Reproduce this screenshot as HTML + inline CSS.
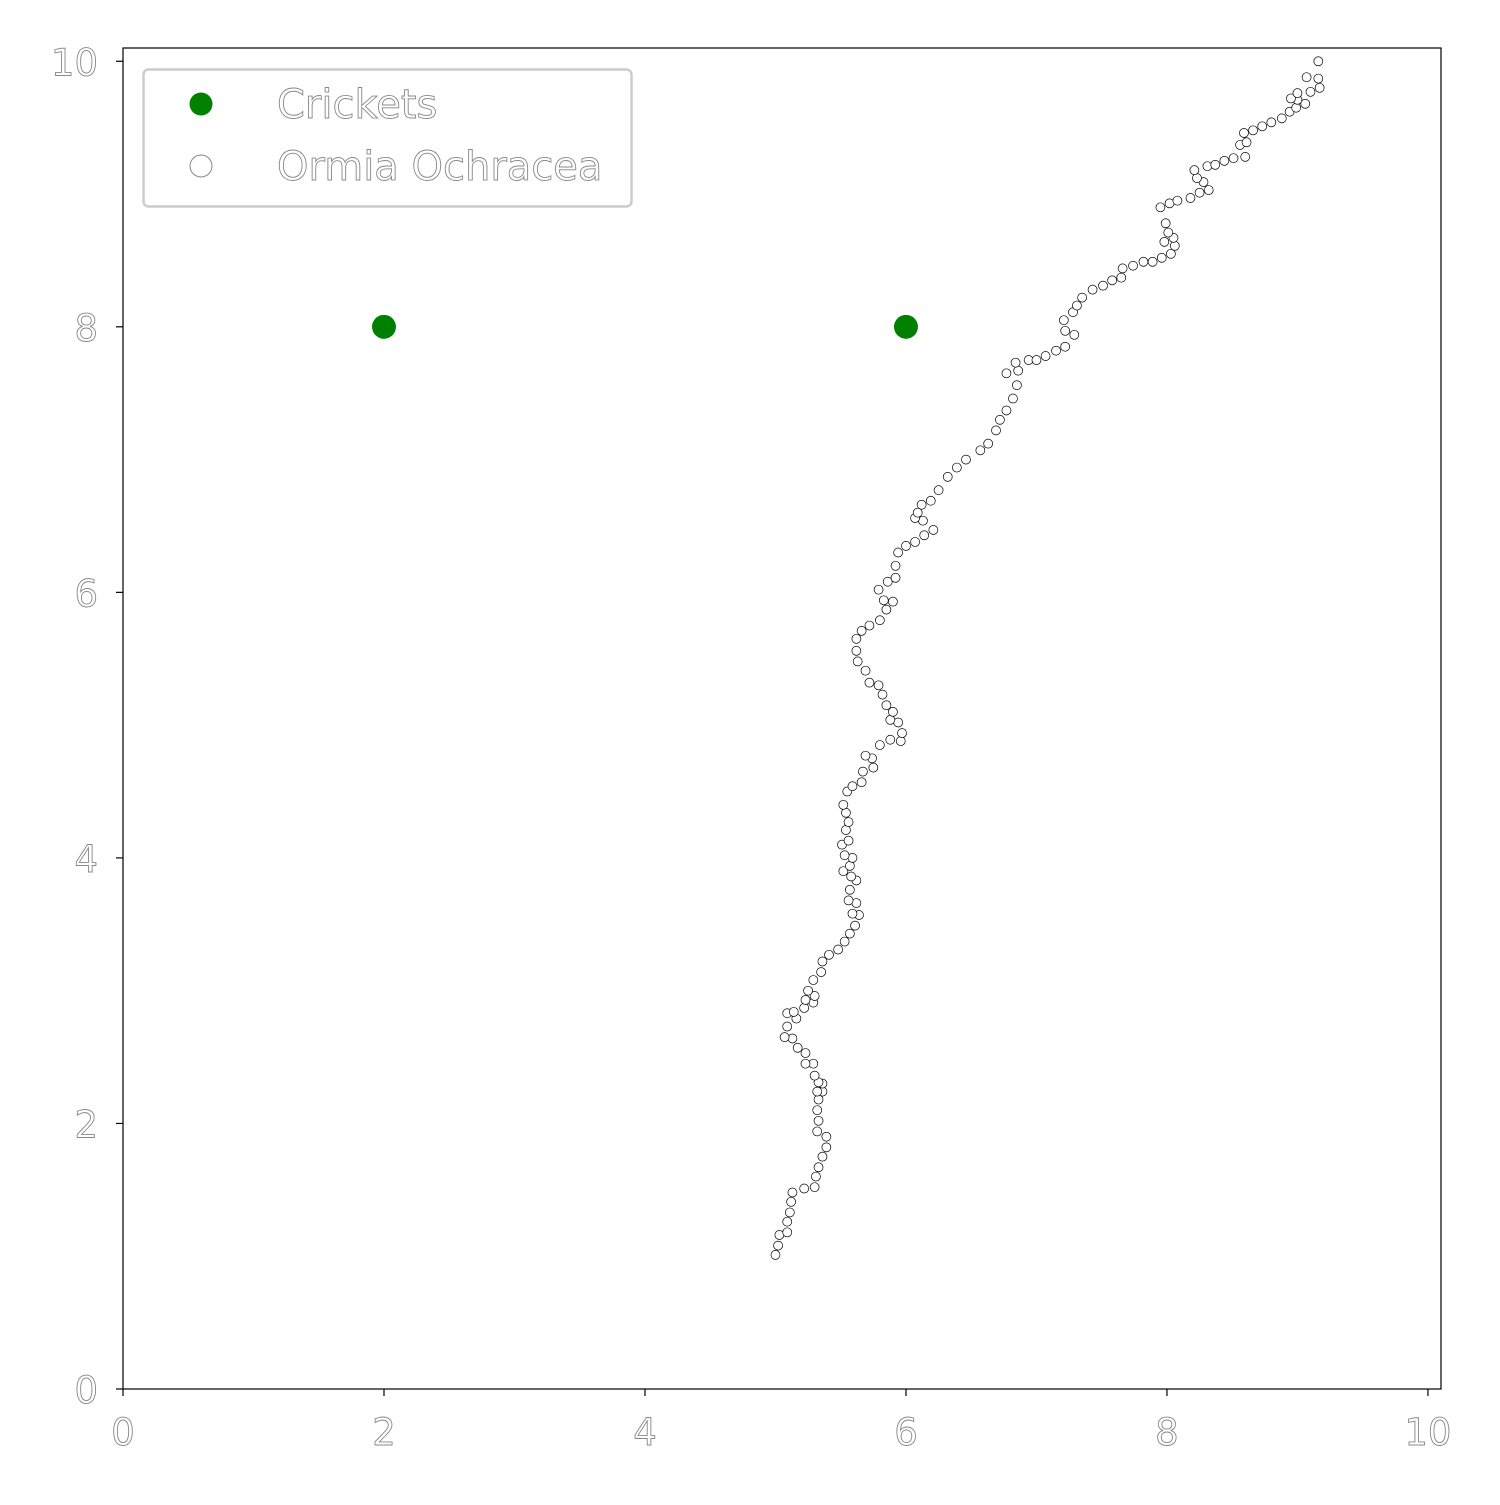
<!DOCTYPE html>
<html><head><meta charset="utf-8"><style>
html,body{margin:0;padding:0;background:#fff}
svg text{font-family:"DejaVu Sans","Liberation Sans",sans-serif;fill:#fff;stroke:#888;stroke-width:0.9}
</style></head><body>
<svg id="chart" width="1500" height="1500" viewBox="0 0 1500 1500" xmlns="http://www.w3.org/2000/svg">
<rect x="0" y="0" width="1500" height="1500" fill="#fff"/>
<g id="plot"></g>
</svg>
<script>
const cricketX = [2, 6];
const cricketY = [8, 8];
const ormiaX = [5.00,5.02,5.03,5.09,5.09,5.11,5.12,5.13,5.22,5.30,5.31,5.33,5.36,5.39,5.39,5.32,5.33,5.32,5.33,5.36,5.32,5.36,5.33,5.30,5.29,5.23,5.23,5.17,5.13,5.07,5.09,5.16,5.09,5.14,5.22,5.29,5.23,5.30,5.25,5.29,5.35,5.36,5.41,5.48,5.53,5.57,5.61,5.64,5.59,5.62,5.56,5.57,5.62,5.58,5.52,5.57,5.59,5.53,5.51,5.56,5.54,5.56,5.54,5.52,5.55,5.59,5.66,5.67,5.75,5.74,5.69,5.80,5.88,5.96,5.97,5.94,5.88,5.90,5.85,5.82,5.79,5.72,5.69,5.63,5.62,5.62,5.66,5.72,5.80,5.85,5.90,5.83,5.79,5.86,5.92,5.92,5.94,6.00,6.07,6.14,6.21,6.13,6.07,6.09,6.12,6.19,6.25,6.32,6.39,6.46,6.57,6.63,6.69,6.72,6.77,6.82,6.85,6.77,6.86,6.84,6.94,7.00,7.07,7.15,7.22,7.29,7.22,7.21,7.28,7.31,7.35,7.43,7.51,7.58,7.65,7.66,7.74,7.82,7.89,7.96,8.03,8.06,7.98,8.05,8.01,7.99,7.95,8.02,8.08,8.18,8.25,8.32,8.28,8.23,8.21,8.31,8.37,8.44,8.51,8.60,8.56,8.61,8.59,8.66,8.73,8.80,8.88,8.94,8.99,9.06,9.00,8.95,9.00,9.10,9.17,9.07,9.16,9.16];
const ormiaY = [1.01,1.08,1.16,1.18,1.26,1.33,1.41,1.48,1.51,1.52,1.60,1.67,1.75,1.82,1.90,1.94,2.02,2.10,2.18,2.24,2.24,2.30,2.31,2.36,2.45,2.45,2.53,2.57,2.64,2.65,2.73,2.79,2.83,2.84,2.87,2.91,2.93,2.96,3.00,3.08,3.14,3.22,3.27,3.31,3.37,3.43,3.49,3.57,3.58,3.66,3.68,3.76,3.83,3.86,3.90,3.94,4.00,4.02,4.10,4.13,4.21,4.27,4.34,4.40,4.50,4.54,4.57,4.65,4.68,4.75,4.77,4.85,4.89,4.88,4.94,5.02,5.04,5.10,5.15,5.23,5.30,5.32,5.41,5.48,5.56,5.65,5.71,5.75,5.79,5.87,5.93,5.94,6.02,6.08,6.11,6.20,6.30,6.35,6.38,6.43,6.47,6.54,6.56,6.60,6.66,6.69,6.77,6.87,6.94,7.00,7.07,7.12,7.22,7.30,7.37,7.46,7.56,7.65,7.67,7.73,7.75,7.75,7.78,7.82,7.85,7.94,7.97,8.05,8.11,8.16,8.22,8.28,8.31,8.35,8.37,8.44,8.46,8.49,8.49,8.52,8.55,8.61,8.64,8.67,8.71,8.78,8.90,8.93,8.95,8.97,9.01,9.03,9.09,9.12,9.18,9.21,9.22,9.25,9.27,9.28,9.37,9.39,9.46,9.48,9.51,9.54,9.57,9.62,9.65,9.68,9.71,9.72,9.76,9.77,9.80,9.88,9.87,10.00];
const xTicks = [0, 2, 4, 6, 8, 10];
const yTicks = [0, 2, 4, 6, 8, 10];
const seriesNames = ["Crickets", "Ormia Ochracea"];

const L=123, T=48, R=1441, B=1389, XMAX=10.1, YMAX=10.1;
const sx = v => L + v/XMAX*(R-L);
const sy = v => B - v/YMAX*(B-T);
const NS="http://www.w3.org/2000/svg";
const g=document.getElementById('plot');
function mk(tag, attrs, parent){const e=document.createElementNS(NS,tag);for(const k in attrs)e.setAttribute(k,attrs[k]);(parent||g).appendChild(e);return e;}

const frame=mk('rect',{x:L,y:T,width:R-L,height:B-T,fill:'none',stroke:'#000','stroke-width':1.2});



xTicks.forEach(t=>{
  const tk=mk('line',{x1:sx(t),x2:sx(t),y1:B,y2:B+7,stroke:'#000','stroke-width':1.2});
  
  
  const tx=mk('text',{x:sx(t),y:B+56,'text-anchor':'middle','font-size':37});
  tx.textContent=t;
  
  
});
yTicks.forEach(t=>{
  const tk=mk('line',{x1:L-7,x2:L,y1:sy(t),y2:sy(t),stroke:'#000','stroke-width':1.2});
  
  
  const tx=mk('text',{x:L-25,y:sy(t)+14,'text-anchor':'end','font-size':37});
  tx.textContent=t;
  
  
});

ormiaX.forEach((v,i)=>{
  const c=mk('circle',{cx:sx(v),cy:sy(ormiaY[i]),r:4.5,fill:'#fff',stroke:'#000','stroke-width':0.7});
  
  
});
cricketX.forEach((v,i)=>{
  const c=mk('circle',{cx:sx(v),cy:sy(cricketY[i]),r:12,fill:'#008000'});
  
  
});

const leg=mk('g',{});


mk('rect',{x:143.5,y:69.5,width:488,height:137,rx:5,fill:'#fff',stroke:'#ccc','stroke-width':2.5},leg);
const m1=mk('circle',{cx:201,cy:104,r:11.5,fill:'#008000'},leg);


const m2=mk('circle',{cx:201,cy:166,r:11,fill:'#fff',stroke:'#888','stroke-width':1},leg);


seriesNames.forEach((n,i)=>{
  const t=mk('text',{x:277,y:118+i*62,'font-size':40},leg);
  t.textContent=n;
  
  
});
</script>
</body></html>
